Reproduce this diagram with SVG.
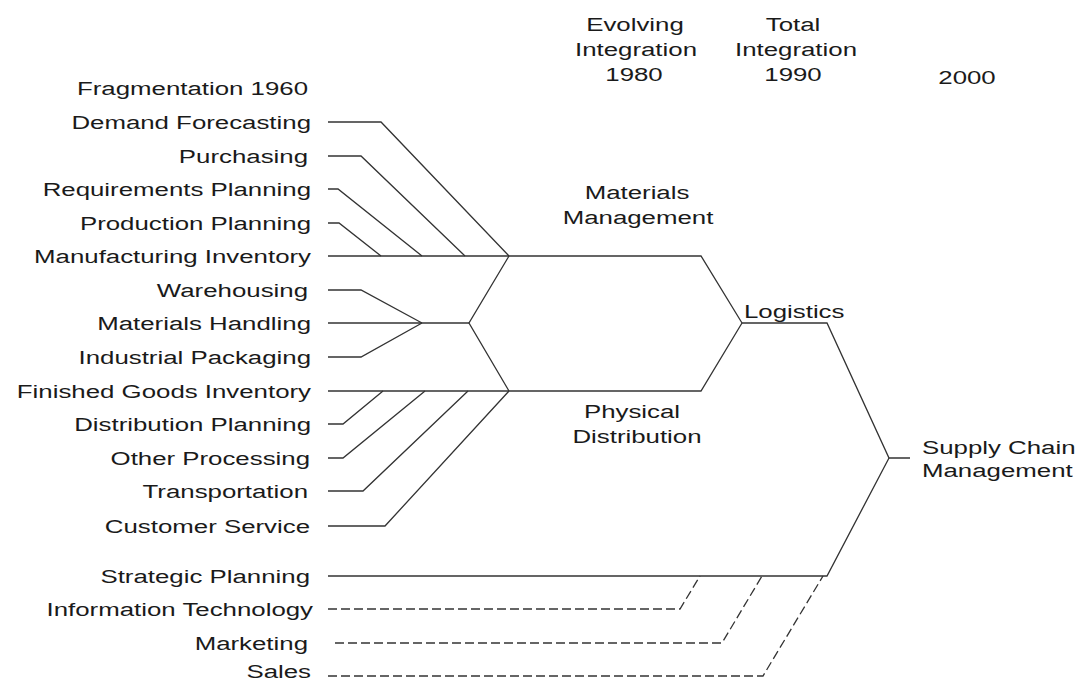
<svg xmlns="http://www.w3.org/2000/svg" width="1085" height="683" viewBox="0 0 1085 683">
<style>
text{font-family:"Liberation Sans",Arial,sans-serif;font-size:19px;fill:#1a1a1a}
.r{text-anchor:end}
.c{text-anchor:middle}
.ln{fill:none;stroke:#333;stroke-width:1.3;stroke-linejoin:miter}
.ds{fill:none;stroke:#333;stroke-width:1.3;stroke-dasharray:9 4}
</style>
<rect width="1085" height="683" fill="#fff"/>
<g id="connectors">
<path class="ln" d="M328,122 H381 L509,256"/>
<path class="ln" d="M328,156 H361 L465,256"/>
<path class="ln" d="M328,189 H338 L422,256"/>
<path class="ln" d="M328,223 H339 L381,256"/>
<path class="ln" d="M328,256 H701 L742,323"/>
<path class="ln" d="M328,290 H361 L422,323"/>
<path class="ln" d="M328,323 H469"/>
<path class="ln" d="M328,357 H361 L422,323"/>
<path class="ln" d="M509,256 L469,323 L509,391"/>
<path class="ln" d="M328,391 H701 L742,323"/>
<path class="ln" d="M328,424 H343 L383,391"/>
<path class="ln" d="M328,458 H343 L425,391"/>
<path class="ln" d="M328,491 H363 L468,391"/>
<path class="ln" d="M328,526 H385 L509,391"/>
<path class="ln" d="M742,323 H827 L889,458 H910"/>
<path class="ln" d="M328,576 H827 L889,458"/>
<path class="ds" d="M328,609 H680 L700,576"/>
<path class="ds" d="M335,643 H722 L762,576"/>
<path class="ds" d="M328,676 H763 L823,576"/>
</g>
<g id="header">
<text class="c" transform="translate(635,31) scale(1.36,1)">Evolving</text>
<text class="c" transform="translate(636,56) scale(1.36,1)">Integration</text>
<text class="c" transform="translate(634,81) scale(1.36,1)">1980</text>
<text class="c" transform="translate(793,31) scale(1.36,1)">Total</text>
<text class="c" transform="translate(796,56) scale(1.36,1)">Integration</text>
<text class="c" transform="translate(793,81) scale(1.36,1)">1990</text>
<text class="c" transform="translate(967,84) scale(1.36,1)">2000</text>
<text class="r" transform="translate(308,95) scale(1.36,1)">Fragmentation 1960</text>
</g>
<g id="n-demand"><text class="r" transform="translate(311,129) scale(1.36,1)">Demand Forecasting</text></g>
<g id="n-purchasing"><text class="r" transform="translate(308,163) scale(1.36,1)">Purchasing</text></g>
<g id="n-requirements"><text class="r" transform="translate(311,196) scale(1.36,1)">Requirements Planning</text></g>
<g id="n-production"><text class="r" transform="translate(311,230) scale(1.36,1)">Production Planning</text></g>
<g id="n-manufacturing"><text class="r" transform="translate(311,263) scale(1.36,1)">Manufacturing Inventory</text></g>
<g id="n-warehousing"><text class="r" transform="translate(308,297) scale(1.36,1)">Warehousing</text></g>
<g id="n-handling"><text class="r" transform="translate(311,330) scale(1.36,1)">Materials Handling</text></g>
<g id="n-packaging"><text class="r" transform="translate(311,364) scale(1.36,1)">Industrial Packaging</text></g>
<g id="n-finished"><text class="r" transform="translate(311,398) scale(1.36,1)">Finished Goods Inventory</text></g>
<g id="n-distribution"><text class="r" transform="translate(311,431) scale(1.36,1)">Distribution Planning</text></g>
<g id="n-other"><text class="r" transform="translate(310,465) scale(1.36,1)">Other Processing</text></g>
<g id="n-transport"><text class="r" transform="translate(308,498) scale(1.36,1)">Transportation</text></g>
<g id="n-customer"><text class="r" transform="translate(310,533) scale(1.36,1)">Customer Service</text></g>
<g id="n-strategic"><text class="r" transform="translate(310,583) scale(1.36,1)">Strategic Planning</text></g>
<g id="n-it"><text class="r" transform="translate(313,616) scale(1.36,1)">Information Technology</text></g>
<g id="n-marketing"><text class="r" transform="translate(308,650) scale(1.36,1)">Marketing</text></g>
<g id="n-sales"><text class="r" transform="translate(311,678) scale(1.36,1)">Sales</text></g>
<g id="n-materials"><text class="c" transform="translate(637,199) scale(1.36,1)">Materials</text><text class="c" transform="translate(638,224) scale(1.36,1)">Management</text></g>
<g id="n-physical"><text class="c" transform="translate(632,418) scale(1.36,1)">Physical</text><text class="c" transform="translate(637,443) scale(1.36,1)">Distribution</text></g>
<g id="n-logistics"><text transform="translate(744,318) scale(1.36,1)">Logistics</text></g>
<g id="n-scm"><text transform="translate(922,454) scale(1.36,1)">Supply Chain</text><text transform="translate(922,477) scale(1.36,1)">Management</text></g>
</svg>
